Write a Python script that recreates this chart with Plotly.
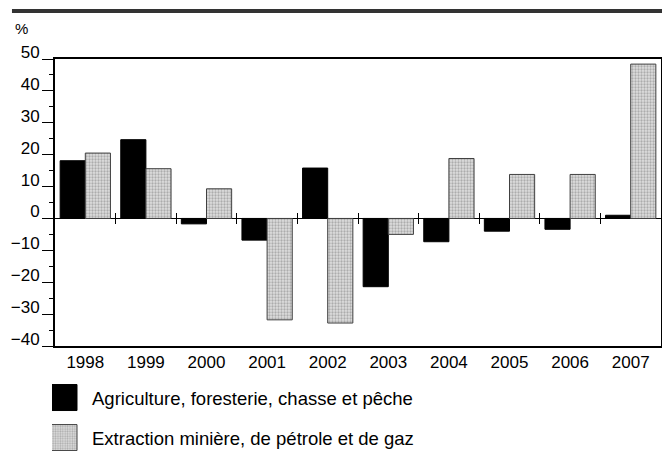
import plotly.graph_objects as go

years = ["1998", "1999", "2000", "2001", "2002", "2003", "2004", "2005", "2006", "2007"]
agri = [18.1, 24.7, -1.7, -6.8, 15.8, -21.4, -7.3, -4.0, -3.4, 1.0]
mining = [20.5, 15.6, 9.3, -31.8, -32.8, -5.0, 18.8, 13.8, 13.8, 48.4]
series_names = ["Agriculture, foresterie, chasse et pêche",
                "Extraction minière, de pétrole et de gaz"]
y_ticks = [-40, -30, -20, -10, 0, 10, 20, 30, 40, 50]
FONT = "Liberation Sans, Arial, sans-serif"

fig = go.Figure()
fig.add_trace(go.Bar(x=years, y=agri, name=series_names[0],
                     marker=dict(color="black", line=dict(color="black", width=1)),
                     legendgroup="a"))
fig.add_trace(go.Bar(x=years, y=mining, name=series_names[1],
                     marker=dict(color="#dedede", line=dict(color="#404040", width=1),
                                 pattern=dict(shape=".", fgcolor="#7a7a7a", bgcolor="#dedede",
                                              size=3, solidity=0.45)),
                     legendgroup="b"))
# invisible traces to host the divider ticks on the zero line
fig.add_trace(go.Scatter(x=[0.5], y=[0], xaxis="x2", mode="markers",
                         marker=dict(opacity=0), showlegend=False, hoverinfo="skip"))
fig.add_trace(go.Scatter(x=[0.5], y=[0], xaxis="x3", mode="markers",
                         marker=dict(opacity=0), showlegend=False, hoverinfo="skip"))

zero_pos = (0 - y_ticks[0]) / (y_ticks[-1] - y_ticks[0])
div_vals = [i + 0.5 for i in range(len(years) - 1)]

fig.update_layout(
    width=662, height=451,
    margin=dict(l=55, r=1, t=59, b=105, autoexpand=False),
    paper_bgcolor="white", plot_bgcolor="white",
    font=dict(family=FONT, color="black", size=15),
    barmode="group", bargap=0.17, bargroupgap=0,
    showlegend=True,
    legend=dict(xref="container", yref="container", x=52 / 662, y=1 - 379 / 451,
                xanchor="left", yanchor="top", font=dict(size=18.5, family=FONT),
                tracegroupgap=13, bgcolor="rgba(0,0,0,0)", itemwidth=30),
    xaxis=dict(type="category", range=[-0.5, 9.5], showline=True, linecolor="black",
               linewidth=1.5, mirror=True, ticks="", showgrid=False, zeroline=False,
               tickangle=0, tickfont=dict(size=17, family=FONT)),
    xaxis2=dict(overlaying="x", anchor="free", position=zero_pos, range=[-0.5, 9.5],
                tickvals=div_vals, ticks="outside", ticklen=5, tickwidth=1,
                tickcolor="black", showticklabels=False, showline=False,
                showgrid=False, zeroline=False),
    xaxis3=dict(overlaying="x", anchor="free", position=zero_pos, range=[-0.5, 9.5],
                tickvals=div_vals, ticks="inside", ticklen=5, tickwidth=1,
                tickcolor="black", showticklabels=False, showline=False,
                showgrid=False, zeroline=False),
    yaxis=dict(range=[y_ticks[0], y_ticks[-1]], tickvals=y_ticks, ticks="outside",
               ticklen=11, tickwidth=1, tickcolor="black", showline=True,
               linecolor="black", linewidth=2, mirror=True, showgrid=False,
               zeroline=True, zerolinecolor="black", zerolinewidth=1,
               ticklabelshift=-7, ticklabelstandoff=-1,
               minor=dict(dtick=5, ticks="outside", ticklen=4, tickcolor="black",
                          tickwidth=1, showgrid=False),
               tickfont=dict(size=17, family=FONT)),
    shapes=[dict(type="line", xref="paper", yref="paper", x0=-0.071, x1=1.01,
                 y0=1.167, y1=1.167, line=dict(color="#333333", width=4))],
    annotations=[dict(text="%", xref="paper", yref="paper", x=-0.07, y=1.108,
                      xanchor="left", yanchor="middle", showarrow=False,
                      font=dict(size=15, family=FONT))],
)

post = """
document.body.style.margin = '0';
document.body.style.padding = '0';
function fixLegend(){
  var pts = document.querySelectorAll('.legendpoints path');
  pts.forEach(function(p){
    p.setAttribute('d','M25,13H-1V-13H25Z');
    p.removeAttribute('transform');
  });
}
fixLegend();
setTimeout(fixLegend, 50);
"""
fig.write_html("out.html", post_script=post, config={"displayModeBar": False})
